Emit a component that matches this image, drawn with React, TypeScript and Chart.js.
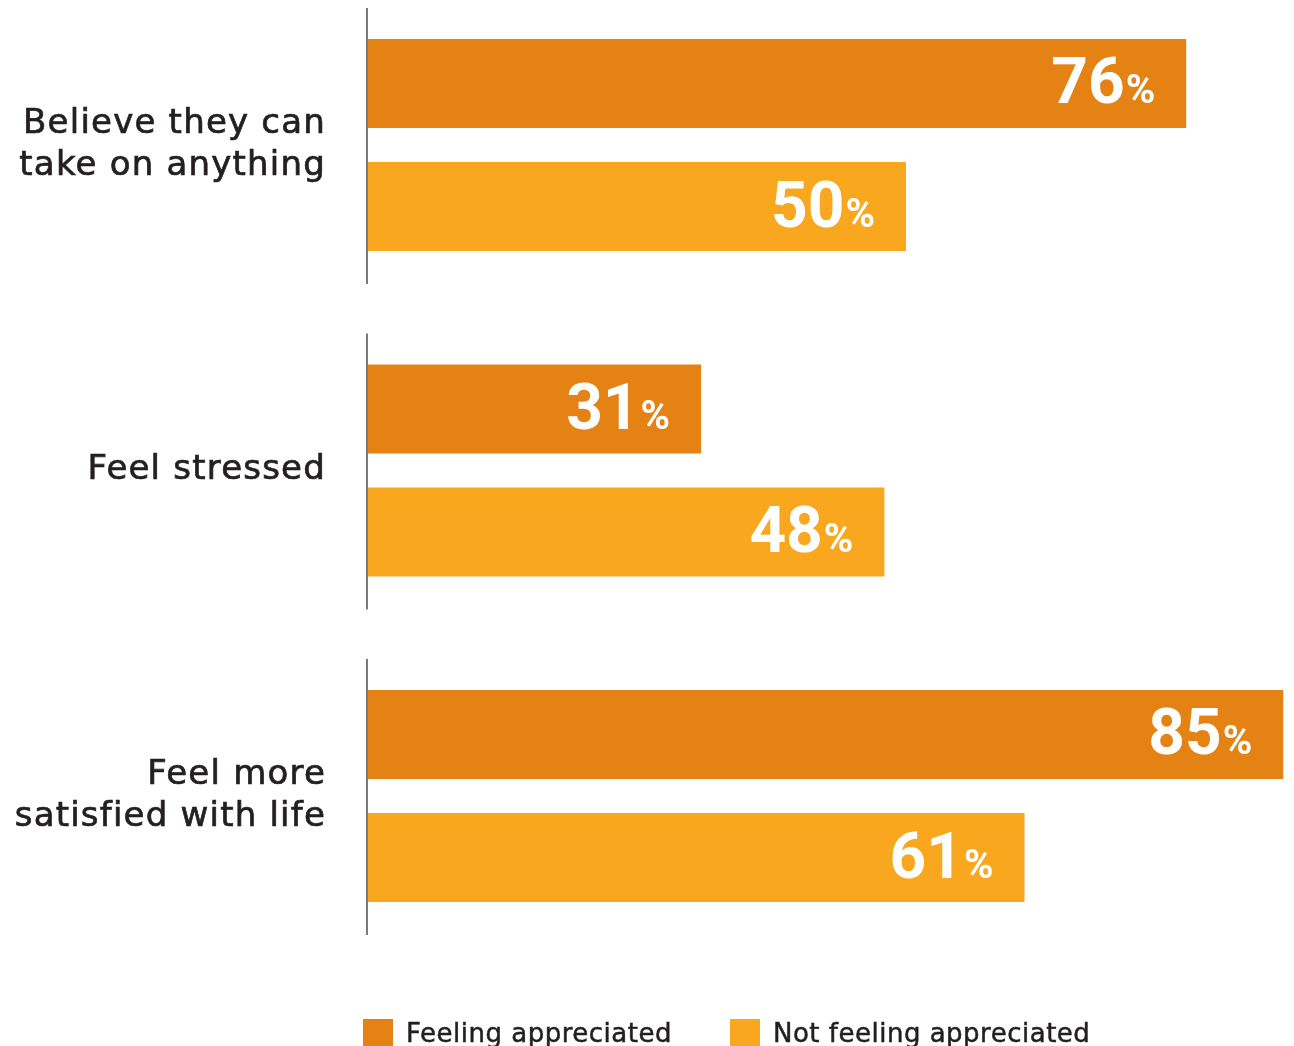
import React, { useEffect, useRef } from "react";
import { Chart, registerables } from "chart.js";

Chart.register(...registerables);

const categories: (string | string[])[] = [
  ["Believe they can", "take on anything"],
  "Feel stressed",
  ["Feel more", "satisfied with life"],
];
const seriesNames = ["Feeling appreciated", "Not feeling appreciated"];
const feelingAppreciated = [76, 31, 85];
const notFeelingAppreciated = [50, 48, 61];
const seriesColors = ["#E58214", "#F8A71F"];
const valueSuffix = "%";

const NUM_FONT = 'Roboto, "Open Sans", sans-serif';
const LABEL_FONT = '"DejaVu Sans", "Open Sans", sans-serif';
const TEXT_COLOR = "#231F20";

const spacing = {
  id: "spacing",
  beforeDraw(chart: any) {
    (chart.ctx as any).letterSpacing = "1.2px";
  },
};

const axisSegments = {
  id: "axisSegments",
  afterDatasetsDraw(chart: any) {
    const { ctx, chartArea } = chart;
    const y = chart.scales.y;
    ctx.save();
    ctx.strokeStyle = "#7A7A7A";
    ctx.lineWidth = 2;
    chart.data.labels.forEach((_: any, i: number) => {
      const c = y.getPixelForValue(i);
      ctx.beginPath();
      ctx.moveTo(chartArea.left, c - 137);
      ctx.lineTo(chartArea.left, c + 139);
      ctx.stroke();
    });
    ctx.restore();
  },
};

const valueLabels = {
  id: "valueLabels",
  afterDatasetsDraw(chart: any) {
    const ctx = chart.ctx;
    chart.data.datasets.forEach((ds: any, di: number) => {
      const meta = chart.getDatasetMeta(di);
      meta.data.forEach((bar: any, i: number) => {
        const num = String(ds.data[i]);
        ctx.save();
        (ctx as any).letterSpacing = "0px";
        ctx.fillStyle = "#FFFFFF";
        ctx.textBaseline = "alphabetic";
        ctx.textAlign = "left";
        ctx.font = `700 40px ${NUM_FONT}`;
        const pw = ctx.measureText(valueSuffix).width;
        ctx.font = `700 64px ${NUM_FONT}`;
        const nw = ctx.measureText(num).width;
        const right = bar.x - 31;
        const base = bar.y + 20;
        ctx.fillText(num, right - pw - 1 - nw, base);
        ctx.font = `700 40px ${NUM_FONT}`;
        ctx.fillText(valueSuffix, right - pw, base);
        ctx.restore();
      });
    });
  },
};

const customLegend = {
  id: "customLegend",
  afterDraw(chart: any) {
    const ctx = chart.ctx;
    const xs = [363, 730];
    const top = 1019;
    ctx.save();
    (ctx as any).letterSpacing = "0.5px";
    chart.data.datasets.forEach((ds: any, di: number) => {
      const x = xs[di];
      ctx.fillStyle = ds.backgroundColor;
      ctx.fillRect(x, top, 30, 30);
      ctx.fillStyle = TEXT_COLOR;
      ctx.strokeStyle = TEXT_COLOR;
      ctx.lineWidth = 0.5;
      ctx.font = `26px ${LABEL_FONT}`;
      ctx.textBaseline = "alphabetic";
      ctx.textAlign = "left";
      ctx.fillText(ds.label, x + 43, top + 23);
      ctx.strokeText(ds.label, x + 43, top + 23);
    });
    ctx.restore();
  },
};

export default function App() {
  const ref = useRef<HTMLCanvasElement>(null);
  useEffect(() => {
    if (!ref.current) return;
    const chart = new Chart(ref.current, {
      type: "bar",
      data: {
        labels: categories as any,
        datasets: [
          {
            label: seriesNames[0],
            data: feelingAppreciated,
            backgroundColor: seriesColors[0],
            categoryPercentage: 0.7558,
            barPercentage: 0.7236,
            clip: false as any,
          },
          {
            label: seriesNames[1],
            data: notFeelingAppreciated,
            backgroundColor: seriesColors[1],
            categoryPercentage: 0.7558,
            barPercentage: 0.7236,
            clip: false as any,
          },
        ],
      },
      options: {
        indexAxis: "y",
        responsive: false,
        animation: false,
        layout: { padding: { top: 145, bottom: 250, left: 0, right: 0 } },
        plugins: {
          legend: { display: false },
          tooltip: { enabled: false },
        },
        scales: {
          x: { display: false, min: 0, max: 86 },
          y: {
            offset: false,
            grid: { display: false, drawTicks: false },
            border: { display: false },
            ticks: {
              padding: 41,
              color: TEXT_COLOR,
              textStrokeColor: TEXT_COLOR,
              textStrokeWidth: 0.7,
              font: { family: LABEL_FONT, size: 34, lineHeight: 1.23 },
            },
            afterFit: (scale: any) => {
              scale.width = 367;
            },
          },
        },
      },
      plugins: [spacing, axisSegments, valueLabels, customLegend],
    });
    return () => chart.destroy();
  }, []);
  return (
    <div style={{ position: "absolute", left: 0, top: 0, width: 1294, height: 1046, background: "#fff" }}>
      <canvas ref={ref} width={1294} height={1046} style={{ display: "block" }} />
    </div>
  );
}
